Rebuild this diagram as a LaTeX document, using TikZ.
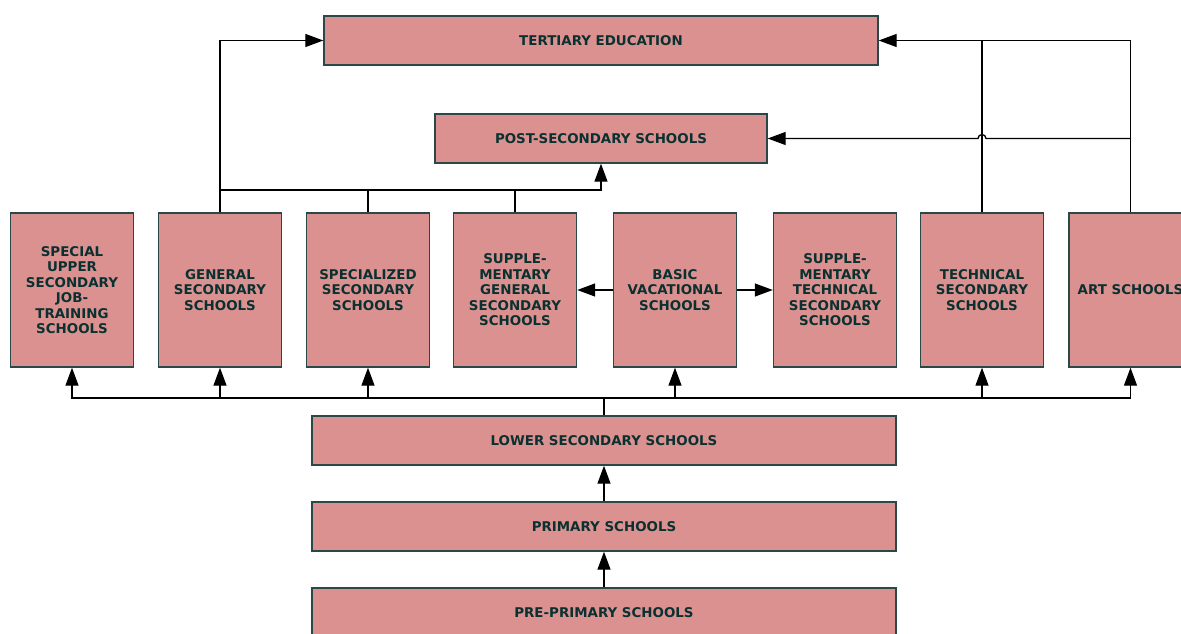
\documentclass[tikz,border=0pt]{standalone}
\usepackage{fontspec}
\setmainfont{DejaVu Sans}
\usetikzlibrary{arrows.meta,calc}
\definecolor{boxfill}{HTML}{DB9190}
\definecolor{boxline}{HTML}{2A4848}
\definecolor{boxtext}{HTML}{0A3030}
\begin{document}
\begin{tikzpicture}[x=1pt,y=-1pt,
  box/.style={draw=boxline,fill=boxfill,line width=1.4pt,inner sep=0pt,align=center,
    font=\fontsize{13.4}{15.5}\selectfont\bfseries,text=boxtext},
  wide/.style={box,minimum height=49pt},
  tall/.style={box,minimum width=123pt,minimum height=154pt},
  conn/.style={draw=black,line width=1.3pt},
  arr/.style={conn,-{Triangle[length=18pt,width=13pt]}}]
\useasboundingbox (0,0) rectangle (1181,634);
% top boxes
\node[wide,minimum width=554pt] (tert) at (601,40.5) {TERTIARY EDUCATION};
\node[wide,minimum width=332pt] (post) at (601,138.5) {POST-SECONDARY SCHOOLS};
% row of secondary schools
\node[tall] (sp)    at (72,290)  {SPECIAL\\UPPER\\SECONDARY\\JOB-\\TRAINING\\SCHOOLS};
\node[tall] (gen)   at (220,290) {GENERAL\\SECONDARY\\SCHOOLS};
\node[tall] (spec)  at (368,290) {SPECIALIZED\\SECONDARY\\SCHOOLS};
\node[tall] (sgen)  at (515,290) {SUPPLE-\\MENTARY\\GENERAL\\SECONDARY\\SCHOOLS};
\node[tall] (basic) at (675,290) {BASIC\\VACATIONAL\\SCHOOLS};
\node[tall] (stech) at (835,290) {SUPPLE-\\MENTARY\\TECHNICAL\\SECONDARY\\SCHOOLS};
\node[tall] (tech)  at (982,290) {TECHNICAL\\SECONDARY\\SCHOOLS};
\node[tall] (art)   at (1130.5,290) {ART SCHOOLS};
% lower boxes
\node[wide,minimum width=584pt] (lower) at (604,440.5) {LOWER SECONDARY SCHOOLS};
\node[wide,minimum width=584pt] (prim)  at (604,526.5) {PRIMARY SCHOOLS};
\node[wide,minimum width=584pt] (pre)   at (604,612.5) {PRE-PRIMARY SCHOOLS};
% bottom chain
\draw[arr] (pre.north) -- (prim.south);
\draw[arr] (prim.north) -- (lower.south);
% bus to secondary row
\coordinate (bus) at (604,398);
\draw[conn,line width=2pt] (lower.north) -- (bus);
\foreach \t in {sp,gen,spec,basic,tech,art}{
  \draw[arr] (bus) -| (\t.south);
}
% basic vocational to supplementary
\draw[arr] (basic.west) -- (sgen.east);
\draw[arr] (basic.east) -- (stech.east -| stech.west);
% to tertiary, left
\draw[arr] (gen.north) |- (tert.west);
% to post-secondary
\coordinate (pj) at (601,190);
\draw[arr] (gen.north) |- (pj) -- (post.south);
\draw[conn] (spec.north) -- (spec.north |- pj);
\draw[conn] (sgen.north) -- (sgen.north |- pj);
% right side to tertiary
\draw[arr] (art.north) |- (tert.east);
\draw[conn] (tech.north) -- (tech.north |- tert.east);
% art to post-secondary with a hop over the technical line
\draw[arr] (art.north |- post.east) -- ($(tech.north |- post.east)+(4,0)$)
  arc[start angle=0,end angle=-180,radius=4] -- (post.east);
\end{tikzpicture}
\end{document}
